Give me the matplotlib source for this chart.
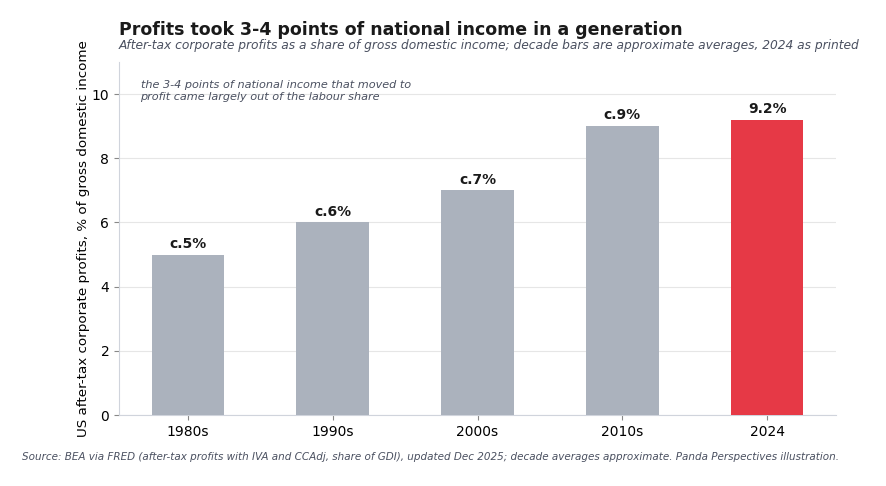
import matplotlib
matplotlib.use('Agg')
import matplotlib.pyplot as plt

periods = ['1980s', '1990s', '2000s', '2010s', '2024']
profit_share = [5.0, 6.0, 7.0, 9.0, 9.2]
bar_labels = ['c.5%', 'c.6%', 'c.7%', 'c.9%', '9.2%']

grey = '#abb2bd'
red = '#e63946'
colors = [grey, grey, grey, grey, red]

fig = plt.figure(figsize=(8.86, 4.86), dpi=100)
ax = fig.add_axes([119 / 886, 1 - 415 / 486, (836 - 119) / 886, (415 - 62) / 486])

bars = ax.bar(range(len(periods)), profit_share, width=0.5, color=colors, zorder=3)
for b, lab in zip(bars, bar_labels):
    ax.text(b.get_x() + b.get_width() / 2, b.get_height() + 0.12, lab,
            ha='center', va='bottom', fontsize=10, fontweight='bold', color='#1a1a1a')

ax.set_xticks(range(len(periods)))
ax.set_xticklabels(periods, fontsize=10)
ax.set_ylim(0, 11)
ax.set_yticks([0, 2, 4, 6, 8, 10])
ax.tick_params(axis='y', labelsize=10, color='#888888')
ax.tick_params(axis='x', color='#888888')
ax.set_ylabel('US after-tax corporate profits, % of gross domestic income', fontsize=9.7, labelpad=1)
ax.yaxis.grid(True, color='#e6e6e6', linewidth=0.8, zorder=0)
ax.set_axisbelow(True)
for s in ['top', 'right']:
    ax.spines[s].set_visible(False)
for s in ['left', 'bottom']:
    ax.spines[s].set_color('#d0d4dc')

ax.text(0.03, 0.95, 'the 3-4 points of national income that moved to\nprofit came largely out of the labour share',
        transform=ax.transAxes, ha='left', va='top', fontsize=8.15, style='italic',
        color='#4a5060', linespacing=1.35)

fig.text(119 / 886, 0.938, 'Profits took 3-4 points of national income in a generation',
         ha='left', va='center', fontsize=12.5, fontweight='bold', color='#1a1a1a')
fig.text(119 / 886, 0.907, 'After-tax corporate profits as a share of gross domestic income; decade bars are approximate averages, 2024 as printed',
         ha='left', va='center', fontsize=8.85, style='italic', color='#4a5060')
fig.text(22 / 886, 1 - 457 / 486, 'Source: BEA via FRED (after-tax profits with IVA and CCAdj, share of GDI), updated Dec 2025; decade averages approximate. Panda Perspectives illustration.',
         ha='left', va='center', fontsize=7.45, style='italic', color='#4a5060')

fig.savefig('out.png', dpi=100)
